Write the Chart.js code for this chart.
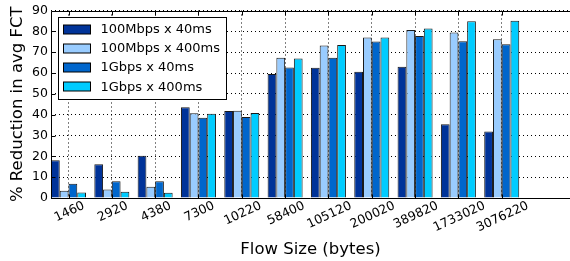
<!DOCTYPE html>
<html>
<head>
<meta charset="utf-8">
<script src="https://cdn.jsdelivr.net/npm/chart.js@4.4.0/dist/chart.umd.min.js"></script>
<style>
  html, body { margin: 0; padding: 0; background: #fff; overflow: hidden; }
</style>
</head>
<body>
<canvas id="myChart" width="570" height="261"></canvas>
<script>
// categories
const flowSizes = ['1460', '2920', '4380', '7300', '10220', '58400', '105120', '200020', '389820', '1733020', '3076220'];

// series (% reduction in avg FCT)
const seriesNames = ['100Mbps x 40ms', '100Mbps x 400ms', '1Gbps x 40ms', '1Gbps x 400ms'];
const seriesColors = ['#003399', '#99ccff', '#0066cc', '#00ccff'];
const mbps100ms40 = [18.1, 16.2, 20.3, 43.6, 41.8, 59.5, 62.5, 60.6, 63.0, 35.4, 31.9];
const mbps100ms400 = [3.5, 4.1, 5.4, 40.7, 41.9, 67.3, 73.2, 77.1, 80.6, 79.5, 76.2];
const gbps1ms40 = [6.8, 8.1, 8.1, 38.5, 38.9, 62.7, 67.3, 75.1, 77.8, 75.2, 73.8];
const gbps1ms400 = [2.7, 3.0, 2.5, 40.4, 40.8, 67.0, 73.5, 77.1, 81.4, 84.9, 85.1];
const seriesValues = [mbps100ms40, mbps100ms400, gbps1ms40, gbps1ms400];

// y ticks
const yMin = 0, yMax = 90, yStep = 10;

const FONT = 'DejaVu Sans';

const datasets = seriesNames.map((name, s) => ({
    label: name,
    data: seriesValues[s].map((v, i) => ({ x: i, y: v })),
    backgroundColor: seriesColors[s],
    borderColor: '#1a1a1a',
    borderWidth: 1,
    categoryPercentage: 0.808,
    barPercentage: 1.0
}));

// frame, inward ticks, rotated x labels, boxed legend
const decorations = {
    id: 'decorations',
    afterDraw(chart) {
        const { ctx, chartArea: a, scales } = chart;
        const xs = scales.x, ys = scales.y;
        const L = Math.round(a.left) + 0.5, T = Math.round(a.top) + 0.5, B = Math.round(a.bottom) + 0.5;
        ctx.save();
        ctx.strokeStyle = '#000';
        ctx.lineWidth = 1;
        ctx.beginPath();
        ctx.moveTo(a.right, T); ctx.lineTo(L, T); ctx.lineTo(L, B); ctx.lineTo(a.right, B);
        // ticks
        flowSizes.forEach((_, i) => {
            const x = Math.round(xs.getPixelForValue(i)) + 0.5;
            ctx.moveTo(x, B); ctx.lineTo(x, B - 4);
            ctx.moveTo(x, T); ctx.lineTo(x, T + 4);
        });
        for (let v = yMin; v <= yMax; v += yStep) {
            const y = Math.round(ys.getPixelForValue(v)) + 0.5;
            ctx.moveTo(L, y); ctx.lineTo(L + 4, y);
        }
        ctx.stroke();

        // x tick labels, rotated and centred on tick
        ctx.fillStyle = '#000';
        ctx.font = '12.5px "' + FONT + '"';
        ctx.textAlign = 'center';
        ctx.textBaseline = 'middle';
        const ang = 25 * Math.PI / 180;
        flowSizes.forEach((lab, i) => {
            const x = xs.getPixelForValue(i) + 1;
            const w = ctx.measureText(lab).width;
            const ext = w * Math.sin(ang) + 9 * Math.cos(ang);
            ctx.save();
            ctx.translate(x, a.bottom + 3 + ext / 2);
            ctx.rotate(-ang);
            ctx.fillText(lab, 0, 0);
            ctx.restore();
        });

        // legend
        const lx = Math.round(a.left) + 7.5, ly = Math.round(a.top) + 6.5;
        ctx.fillStyle = '#fff';
        ctx.fillRect(lx, ly, 168, 82);
        ctx.strokeStyle = '#000';
        ctx.strokeRect(lx, ly, 168, 82);
        ctx.font = '13px "' + FONT + '"';
        ctx.textAlign = 'left';
        chart.data.datasets.forEach((ds, k) => {
            const cy = ly + 11.5 + k * 19.3;
            ctx.fillStyle = ds.backgroundColor;
            ctx.fillRect(lx + 5, Math.round(cy - 4.5), 27, 9);
            ctx.strokeStyle = '#000';
            ctx.strokeRect(lx + 5, Math.round(cy - 4.5), 27, 9);
            ctx.fillStyle = '#000';
            ctx.fillText(ds.label, lx + 42, cy + 0.5);
        });
        ctx.restore();
    }
};

new Chart(document.getElementById('myChart'), {
    type: 'bar',
    data: { datasets },
    options: {
        responsive: false,
        animation: false,
        devicePixelRatio: 1,
        layout: { padding: { top: 9, right: 0, left: 0, bottom: 0 } },
        plugins: { legend: { display: false }, tooltip: { enabled: false } },
        scales: {
            x: {
                type: 'linear',
                offset: false,
                min: -0.404,
                max: 11.576,
                afterBuildTicks: axis => { axis.ticks = flowSizes.map((_, i) => ({ value: i })); },
                afterFit: scale => { scale.height = 63; },
                ticks: { display: false },
                grid: { offset: false, color: '#000', lineWidth: 1, drawTicks: false },
                border: { display: false, dash: [1, 3] },
                title: {
                    display: true,
                    text: 'Flow Size (bytes)',
                    color: '#000',
                    font: { family: FONT, size: 16.5 },
                    padding: { top: 0, bottom: 1 }
                }
            },
            y: {
                min: yMin,
                max: yMax,
                afterFit: scale => { scale.width = 51; },
                ticks: { stepSize: yStep, padding: 3, color: '#000', font: { family: FONT, size: 12.5 } },
                grid: { color: '#000', lineWidth: 1, drawTicks: false },
                border: { display: false, dash: [1, 3] },
                title: {
                    display: true,
                    text: '% Reduction in avg FCT',
                    color: '#000',
                    font: { family: FONT, size: 16.5 },
                    padding: { top: 8, bottom: 0 }
                }
            }
        }
    },
    plugins: [decorations]
});
</script>
</body>
</html>
